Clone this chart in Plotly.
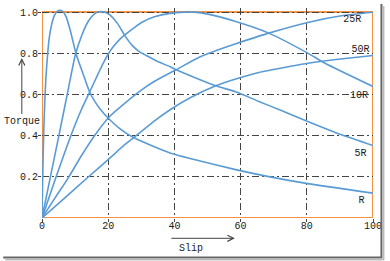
import plotly.graph_objects as go

# ---- data (slip %, torque p.u.) ----
slip_R = [0, 0.15, 0.39, 0.69, 1.14, 1.68, 2.19, 2.88, 3.69, 4.59, 5.40, 6.24, 7.29, 8.49, 10.38,
          12.39, 14.40, 15.99, 17.49, 20.49, 23.49, 27.48, 32.49, 38.70, 47.49, 58.50, 68.49, 80.28, 100]
torque_R = [0, 0.137, 0.332, 0.502, 0.671, 0.793, 0.875, 0.938, 0.982, 1.004, 1.009, 1.004, 0.977, 0.914,
            0.793, 0.701, 0.612, 0.565, 0.531, 0.477, 0.434, 0.392, 0.356, 0.316, 0.278, 0.235, 0.201,
            0.167, 0.121]

slip_5R = [0, 2.46, 5.21, 7.77, 10.08, 12.09, 13.89, 15.69, 17.40, 18.99, 20.49, 22.89, 24.99, 27.09,
           29.49, 32.49, 35.49, 38.70, 40.50, 52.51, 58.51, 65.50, 72.49, 80.29, 90.49, 100]
torque_5R = [0, 0.194, 0.409, 0.612, 0.793, 0.890, 0.953, 0.989, 1.003, 0.999, 0.987, 0.943, 0.887, 0.841,
             0.807, 0.781, 0.756, 0.735, 0.720, 0.642, 0.613, 0.566, 0.521, 0.469, 0.404, 0.352]

slip_10R = [0, 4.14, 8.94, 11.88, 14.40, 16.98, 18.39, 19.89, 21.39, 23.19, 25.50, 27.99, 30.48, 33.99,
            38.70, 42.99, 45.99, 50.50, 58.51, 68.50, 80.29, 85.51, 100]
torque_10R = [0, 0.194, 0.409, 0.526, 0.612, 0.701, 0.749, 0.793, 0.829, 0.863, 0.895, 0.926, 0.953, 0.977,
              0.994, 1.0, 1.0, 0.989, 0.954, 0.898, 0.801, 0.752, 0.639]

slip_25R = [0, 3.99, 7.89, 12.09, 16.29, 20.49, 24.99, 29.49, 33.99, 40.50, 47.49, 54.99, 58.51, 68.50,
            80.29, 90.49, 100]
torque_25R = [0, 0.099, 0.194, 0.307, 0.409, 0.494, 0.557, 0.615, 0.664, 0.720, 0.781, 0.827, 0.846, 0.898,
              0.950, 0.982, 0.999]

slip_50R = [0, 6.99, 13.89, 20.49, 24.99, 29.49, 33.99, 38.70, 44.49, 52.51, 58.51, 65.50, 74.50, 80.29,
            89.50, 100]
torque_50R = [0, 0.099, 0.198, 0.291, 0.356, 0.413, 0.472, 0.526, 0.582, 0.642, 0.675, 0.707, 0.735, 0.752,
              0.771, 0.789]

series = [("R", slip_R, torque_R), ("5R", slip_5R, torque_5R), ("10R", slip_10R, torque_10R),
          ("25R", slip_25R, torque_25R), ("50R", slip_50R, torque_50R)]

label_names = ["25R", "50R", "10R", "5R", "R"]
label_x = [93.7, 96.2, 95.8, 96.2, 96.5]
label_y = [0.963, 0.817, 0.595, 0.312, 0.084]

x_ticks = [0, 20, 40, 60, 80, 100]
x_ticktext = ["0", "20", "40", "60", "80", "100"]
y_ticks = [0.2, 0.4, 0.6, 0.8, 1.0]
y_ticktext = ["0.2", "0.4", "0.6", "0.8", "1.0"]

# ---- layout geometry ----
W, H = 390, 261
L, R, T, B = 42, 15, 8, 43
PW, PH = W - L - R, H - T - B

def px(x):
    return (x - L) / PW

def py(y):
    return (H - B - y) / PH

FONT = "Liberation Mono, Courier New, monospace"
TXT = "#1a1a1a"
BLUE = "rgb(91,155,213)"
ORANGE = "rgb(244,146,70)"

fig = go.Figure()
for name, xs, ys in series:
    fig.add_trace(go.Scatter(x=xs, y=ys, mode="lines", name=name,
                             line=dict(color=BLUE, width=1.6, shape="spline", smoothing=0.6),
                             showlegend=False, hoverinfo="skip"))

fig.add_trace(go.Scatter(x=label_x, y=label_y, mode="text", text=label_names,
                         textfont=dict(family=FONT, size=10, color=TXT),
                         showlegend=False, hoverinfo="skip"))

axis_common = dict(showgrid=True, gridcolor="#444", gridwidth=1, griddash="7px,3px,2px,3px",
                   zeroline=False, showline=False, ticks="outside", ticklen=3, tickcolor="#444",
                   tickfont=dict(family=FONT, size=10, color=TXT))

fig.update_xaxes(range=[0, 100], tickvals=x_ticks, ticktext=x_ticktext,
                 ticklabelstandoff=-5, **axis_common)
fig.update_yaxes(range=[0, 1.02], tickvals=y_ticks, ticktext=y_ticktext,
                 ticklabelstandoff=-2, **axis_common)

shapes = [
    dict(type="rect", xref="x", yref="y", x0=0, x1=100, y0=0, y1=1.0,
         line=dict(color=ORANGE, width=2), layer="below"),
    # picture-frame shadow
    dict(type="line", xref="paper", yref="paper", x0=px(3), x1=px(384), y0=py(257.5), y1=py(257.5),
         line=dict(color="#666", width=2)),
    dict(type="line", xref="paper", yref="paper", x0=px(383.5), x1=px(383.5), y0=py(4), y1=py(258),
         line=dict(color="#666", width=2)),
    dict(type="line", xref="paper", yref="paper", x0=px(5), x1=px(386), y0=py(259.5), y1=py(259.5),
         line=dict(color="#bbb", width=2)),
    dict(type="line", xref="paper", yref="paper", x0=px(385.5), x1=px(385.5), y0=py(6), y1=py(260),
         line=dict(color="#bbb", width=2)),
]

annotations = [
    dict(xref="paper", yref="paper", x=px(21.7), y=py(58), text="Torque",
         showarrow=True, ax=0, ay=63, arrowhead=5, arrowsize=1.2, arrowwidth=1, arrowcolor="#444",
         font=dict(family=FONT, size=10, color=TXT)),
    dict(xref="paper", yref="paper", x=px(236), y=py(238.3), text="",
         showarrow=True, ax=-65, ay=0, arrowhead=5, arrowsize=1.2, arrowwidth=1, arrowcolor="#444"),
    dict(xref="paper", yref="paper", x=px(191.5), y=py(248.3), text="Slip", showarrow=False,
         xanchor="center", yanchor="middle",
         font=dict(family=FONT, size=10, color=TXT)),
]

fig.update_layout(width=W, height=H, margin=dict(l=L, r=R, t=T, b=B),
                  paper_bgcolor="white", plot_bgcolor="white",
                  shapes=shapes, annotations=annotations)

fig.write_html("out.html")
